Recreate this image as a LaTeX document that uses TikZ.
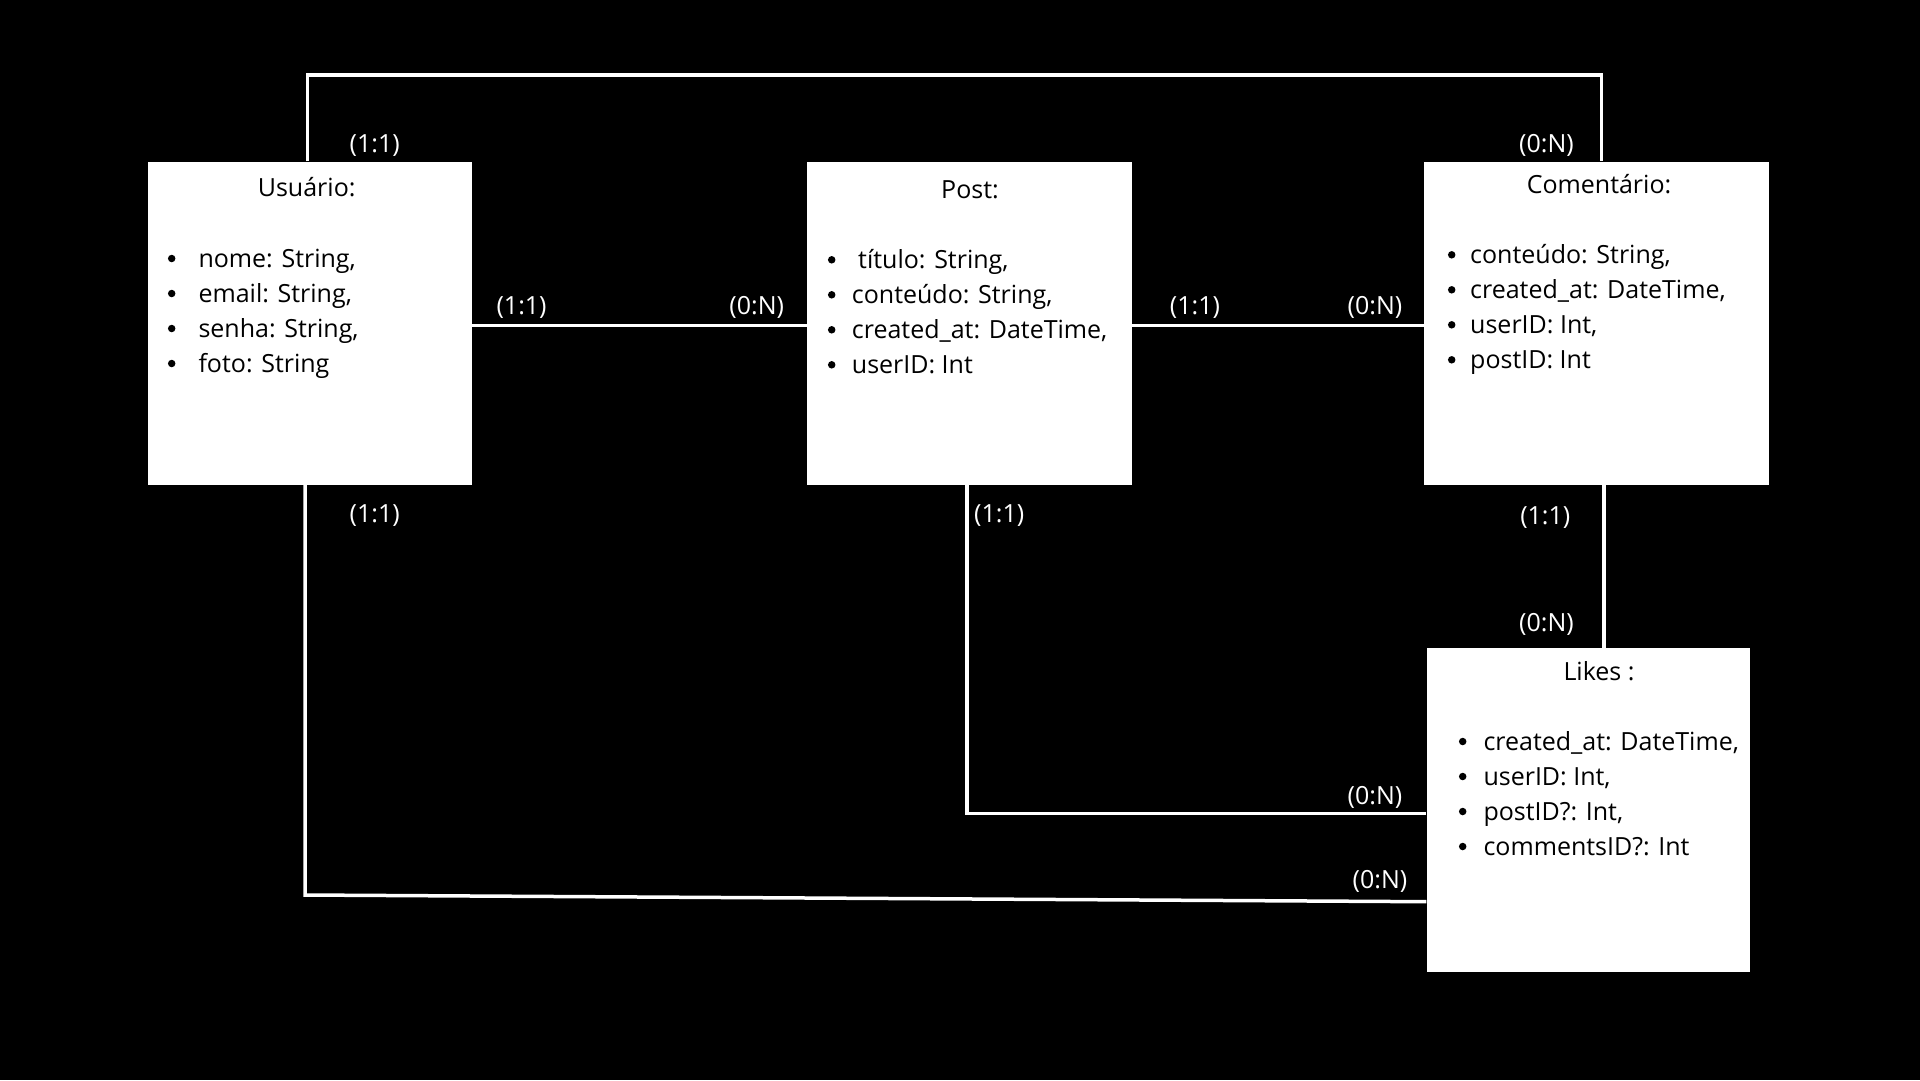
\documentclass[tikz,border=0pt]{standalone}
\usepackage{fontspec}
\setmainfont{Open Sans}
\begin{document}
\begin{tikzpicture}[x=1pt,y=-1pt,
  txt/.style={font=\fontsize{25}{30}\selectfont,inner sep=0pt},
  entity/.style={rectangle,fill=white,draw=none,inner sep=0pt,minimum height=323.3pt},
  ttl/.style={txt,anchor=base,text=black},
  attr/.style={txt,anchor=base west,text=black},
  dot/.style={circle,fill=black,inner sep=0pt,minimum size=7.5pt},
  card/.style={txt,text=white},
  conn/.style={draw=white,line width=3.5pt}]

% canvas
\fill[black] (0,0) rectangle (1920,1080);
\useasboundingbox (0,0) rectangle (1920,1080);

% entities
\node[entity,minimum width=323.5pt] (usu)  at (309.9,323.3) {};
\node[entity,minimum width=324.4pt] (post) at (969.5,323.3) {};
\node[entity,minimum width=345.3pt] (com)  at (1596.6,323.3) {};
\node[entity,minimum width=323.3pt] (likes) at (1588.3,810.0) {};

% titles
\node[ttl] (usu-t)   at (306.7,196.7) {Usuário:};
\node[ttl] (post-t)  at (970,198) {Post:};
\node[ttl] (com-t)   at (1599,193) {Comentário:};
\node[ttl] (likes-t) at (1599,680.7) {Likes :};

% attribute lists
\foreach \t [count=\i] in {{nome: String,},{email: String,},{senha: String,},{foto: String}} {
  \node[dot] (usu-b\i) at (171.7,{267+35*(\i-1)-8.5}) {};
  \node[attr] (usu-a\i) at (198.3,{267+35*(\i-1)}) {\t};
}
\foreach \t [count=\i] in {{conteúdo: String,},{created\_at: DateTime,},{userID: Int}} {
  \node[dot] (post-b\i) at (831.7,{303.3+35*(\i-1)-8.5}) {};
  \node[attr] (post-a\i) at (851.7,{303.3+35*(\i-1)}) {\t};
}
\node[dot] (post-b0) at (831.7,{268.3-8.5}) {};
\node[attr] (post-a0) at (858,268.3) {título: String,};
\foreach \t [count=\i] in {{conteúdo: String,},{created\_at: DateTime,},{userID: Int,},{postID: Int}} {
  \node[dot] (com-b\i) at (1451.7,{263.3+35*(\i-1)-8.5}) {};
  \node[attr] (com-a\i) at (1470,{263.3+35*(\i-1)}) {\t};
}
\foreach \t [count=\i] in {{created\_at: DateTime,},{userID: Int,},{postID?: Int,},{commentsID?: Int}} {
  \node[dot] (likes-b\i) at (1462.7,{750+35*(\i-1)-8.5}) {};
  \node[attr] (likes-a\i) at (1483.3,{750+35*(\i-1)}) {\t};
}

% routing points
\coordinate (toprow) at (900,75);
\coordinate (ucorner) at (305,895);

% relationships
\draw[conn] ([xshift=-2.2pt]usu.north) |- (toprow) -| ([xshift=5pt]com.north);
\draw[conn] ([yshift=-2.4pt]usu.east) -- ([yshift=-2.4pt]post.west);
\draw[conn] ([yshift=-2.4pt]post.east) -- ([yshift=-2.4pt]com.west);
\draw[conn] ([xshift=7.5pt]com.south) -- ([xshift=7.5pt]com.south |- likes.north);
\draw[conn] ([xshift=-2.5pt]post.south) |- ([yshift=-3.3pt]likes.west);
\draw[conn] ([xshift=-4.9pt]usu.south) -- (ucorner) -- ([yshift=-91.7pt]likes.west);

% cardinalities
\node[card] (c1)  at (374.7,145.8) {(1:1)};
\node[card] (c2)  at (1546.5,145.8) {(0:N)};
\node[card] (c3)  at (521.6,307.4) {(1:1)};
\node[card] (c4)  at (756.7,307.4) {(0:N)};
\node[card] (c5)  at (1195,307.4) {(1:1)};
\node[card] (c6)  at (1375,307.4) {(0:N)};
\node[card] (c7)  at (374.7,515.5) {(1:1)};
\node[card] (c8)  at (999.2,515.5) {(1:1)};
\node[card] (c9)  at (1545.3,518) {(1:1)};
\node[card] (c10) at (1546.5,624.5) {(0:N)};
\node[card] (c11) at (1375,797.2) {(0:N)};
\node[card] (c12) at (1380,881.7) {(0:N)};
\end{tikzpicture}
\end{document}
